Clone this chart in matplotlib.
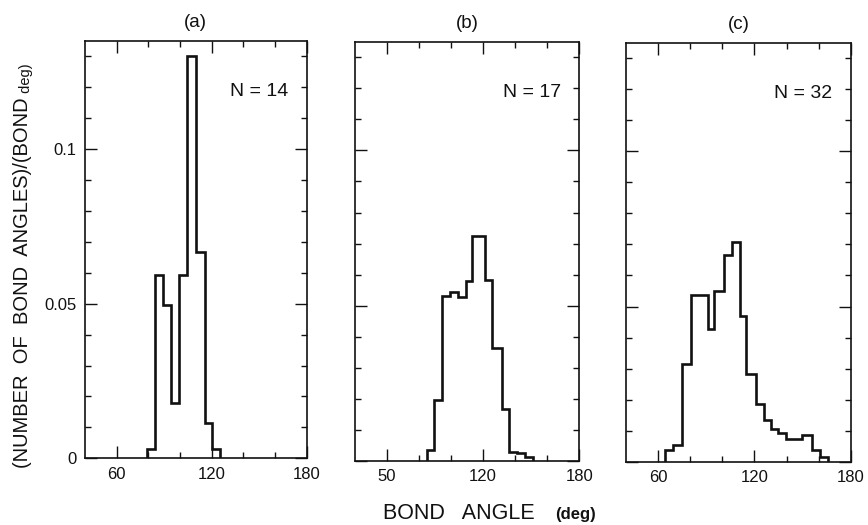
import matplotlib
matplotlib.use('Agg')
import matplotlib.pyplot as plt
from matplotlib.ticker import FixedLocator, FixedFormatter, MultipleLocator

plt.rcParams['font.family'] = ['Liberation Sans', 'DejaVu Sans']

# bin edges (deg) and heights (fraction of bond angles per deg)
edges_a = [79.0, 84.0, 89.3, 94.6, 99.4, 104.2, 110.3, 115.5, 120.1, 125.0]
hist_a = [0.003, 0.0593, 0.0496, 0.0178, 0.0593, 0.130, 0.0668, 0.0113, 0.003]

edges_b = [84.7, 89.0, 94.0, 99.3, 104.5, 109.0, 113.0, 121.0, 125.7, 132.0, 136.0, 141.0, 146.0, 151.0]
hist_b = [0.0037, 0.0198, 0.0532, 0.0543, 0.0528, 0.058, 0.0725, 0.0584, 0.0364, 0.0166, 0.003, 0.0026, 0.0013]

edges_c = [64.5, 69.5, 75.0, 80.5, 91.0, 95.0, 101.0, 106.0, 111.0, 115.0, 121.0, 126.0,
           130.5, 135.0, 139.5, 149.5, 156.0, 161.0, 166.0]
hist_c = [0.0037, 0.0053, 0.0314, 0.0538, 0.0429, 0.0549, 0.0666, 0.0708, 0.0471, 0.0282,
          0.0187, 0.0135, 0.0105, 0.0091, 0.0072, 0.0085, 0.0037, 0.0016]

panel_titles = ['(a)', '(b)', '(c)']
n_values = [14, 17, 32]
xtick_labels = [['60', '120', '180'], ['50', '120', '180'], ['60', '120', '180']]
ytick_labels = ['0', '0.05', '0.1']

W, H = 868, 525
fig = plt.figure(figsize=(W / 100, H / 100), dpi=100)

# axes boxes in pixels: left, right, top, bottom
boxes = [(85, 306.7, 40.7, 458.3), (355, 579.3, 41.7, 461.0), (626, 850.7, 42.7, 461.7)]
ink = '#111111'

for i, (edges, hist) in enumerate([(edges_a, hist_a), (edges_b, hist_b), (edges_c, hist_c)]):
    l, r, t, b = boxes[i]
    ax = fig.add_axes([l / W, 1 - b / H, (r - l) / W, (b - t) / H])
    ax.stairs(hist, edges, baseline=0, color=ink, lw=1.9)
    ax.set_xlim(40, 180)
    ax.set_ylim(0, 0.135)

    ax.xaxis.set_major_locator(FixedLocator([60, 120, 180]))
    ax.xaxis.set_minor_locator(FixedLocator([80, 100, 140, 160]))
    ax.xaxis.set_major_formatter(FixedFormatter(xtick_labels[i]))
    ax.yaxis.set_major_locator(FixedLocator([0, 0.05, 0.1]))
    ax.yaxis.set_minor_locator(MultipleLocator(0.01))
    if i == 0:
        ax.yaxis.set_major_formatter(FixedFormatter(ytick_labels))
    else:
        ax.set_yticklabels([])

    ax.tick_params(which='both', direction='in', top=True, right=True, color=ink, width=1.0)
    ax.tick_params(which='major', length=8.5, labelsize=12, pad=6, labelcolor=ink)
    ax.tick_params(which='minor', length=4)
    for s in ax.spines.values():
        s.set_linewidth(1.2)
        s.set_color(ink)

    ax.set_title(panel_titles[i], fontsize=13.5, pad=10, color=ink)
    ax.text(0.918, 0.867, 'N = {}'.format(n_values[i]), transform=ax.transAxes,
            ha='right', va='baseline', fontsize=14, color=ink)

# x label
fig.text(383 / W, 1 - 519 / H, 'BOND   ANGLE', fontsize=15.5, ha='left', va='baseline', color=ink)
fig.text(555 / W, 1 - 519 / H, '(deg)', fontsize=12, fontweight='bold', ha='left', va='baseline', color=ink)

# y label
ylab = fig.text(23 / W, 1 - 468 / H, '(NUMBER  OF  BOND  ANGLES)/(BOND', fontsize=14.5,
                rotation=90, ha='center', va='bottom', color=ink)
ax0 = fig.axes[0]
ax0.annotate(' deg)', xy=(0.5, 1.0), xycoords=ylab, xytext=(2, 0), textcoords='offset points',
             rotation=90, ha='center', va='bottom', fontsize=10.5, color=ink, annotation_clip=False)

fig.savefig('out.png', dpi=100)
